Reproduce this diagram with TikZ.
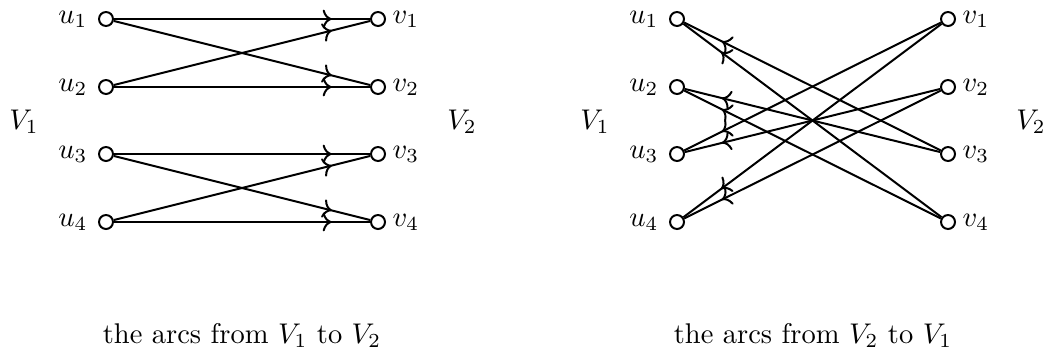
\documentclass[tikz,border=0pt]{standalone}
\usetikzlibrary{decorations.markings,arrows.meta}
\begin{document}
\begin{tikzpicture}[x=0.351pt,y=-0.351pt,
  vert/.style={circle,draw,line width=0.7pt,minimum size=4.9pt,inner sep=0pt,fill=white},
  ulab/.style={anchor=east,inner sep=0pt},
  vlab/.style={anchor=west,inner sep=0pt},
  arcR/.style={line width=0.7pt,postaction={decorate},decoration={markings,mark=at position 0.85 with {\arrow{>}}}},
  arcL/.style={line width=0.7pt,postaction={decorate},decoration={markings,mark=at position 0.855 with {\arrow{>}}}}]
\useasboundingbox (0,0) rectangle (1043,353);
% left graph
\foreach \i/\y in {1/19,2/87,3/154,4/222}{
  \node[vert] (a\i) at (106,\y) {};
  \node[ulab] (la\i) at (88,\y) {$u_\i$};
  \node[vert] (b\i) at (378,\y) {};
  \node[vlab] (lb\i) at (392,\y) {$v_\i$};
}
\node (LV1) at (24,122) {$V_1$};
\node (LV2) at (462,122) {$V_2$};
\draw[arcR] (a1) -- (b1);
\draw[arcR] (a1) -- (b2);
\draw[arcR] (a2) -- (b1);
\draw[arcR] (a2) -- (b2);
\draw[arcR] (a3) -- (b3);
\draw[arcR] (a3) -- (b4);
\draw[arcR] (a4) -- (b3);
\draw[arcR] (a4) -- (b4);
\node[anchor=base] (capL) at (242,343) {the arcs from $V_1$ to $V_2$};
% right graph
\foreach \i/\y in {1/19,2/87,3/154,4/222}{
  \node[vert] (c\i) at (677,\y) {};
  \node[ulab] (lc\i) at (659,\y) {$u_\i$};
  \node[vert] (d\i) at (948,\y) {};
  \node[vlab] (ld\i) at (962,\y) {$v_\i$};
}
\node (RV1) at (595,122) {$V_1$};
\node (RV2) at (1031,122) {$V_2$};
\draw[arcL] (d3) -- (c1);
\draw[arcL] (d4) -- (c1);
\draw[arcL] (d3) -- (c2);
\draw[arcL] (d4) -- (c2);
\draw[arcL] (d1) -- (c3);
\draw[arcL] (d2) -- (c3);
\draw[arcL] (d1) -- (c4);
\draw[arcL] (d2) -- (c4);
\node[anchor=base] (capR) at (813,343) {the arcs from $V_2$ to $V_1$};
\end{tikzpicture}
\end{document}
